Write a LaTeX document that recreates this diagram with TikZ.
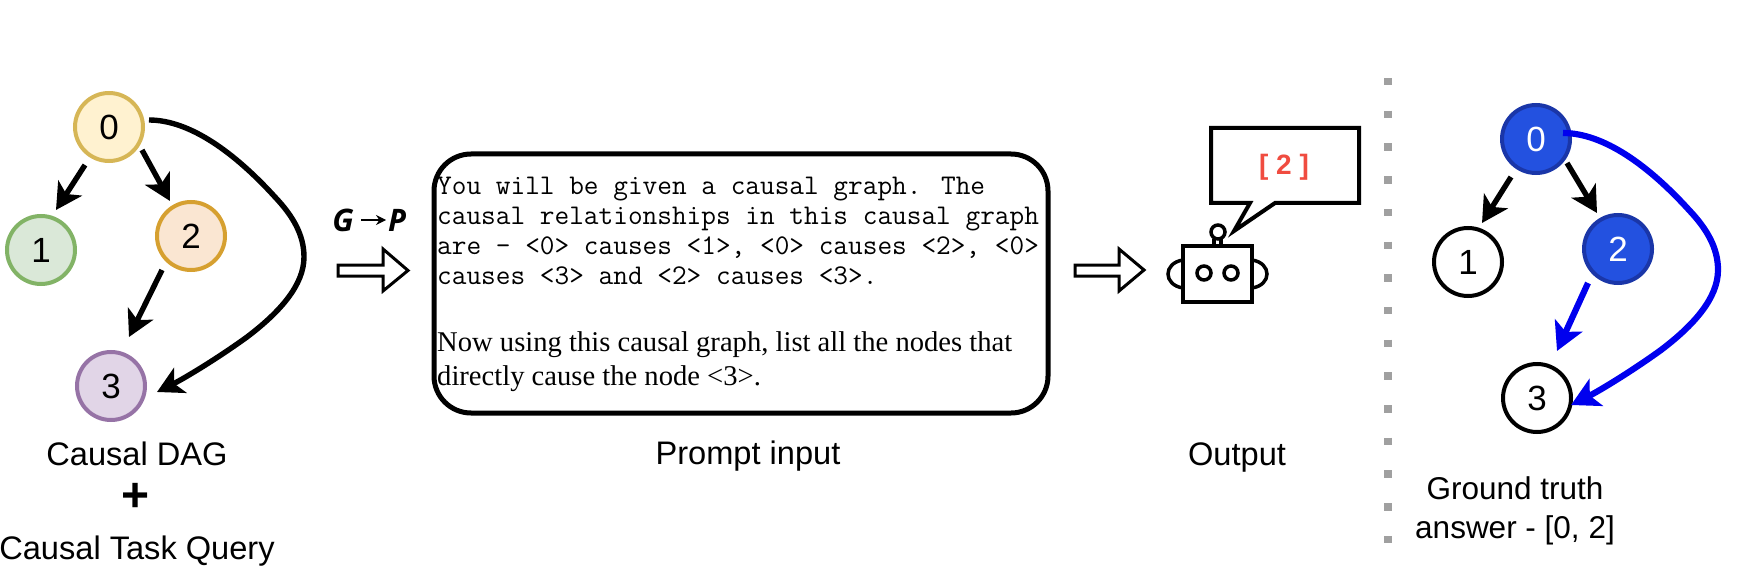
\documentclass[tikz,border=0pt]{standalone}
\usepackage{fontspec}
\setmainfont{Liberation Sans}
\newfontfamily\seriff{Liberation Serif}
\newfontfamily\handf{Open Sans}
\usetikzlibrary{arrows.meta,calc}
\definecolor{blueFill}{HTML}{2351E0}
\definecolor{blueLine}{HTML}{1A36A8}
\definecolor{pathBlue}{HTML}{0000EE}
\definecolor{dotGray}{HTML}{A0A0A0}
\definecolor{redTxt}{HTML}{F04C40}
\tikzset{
  dagnode/.style={circle,minimum size=68pt,inner sep=0pt,line width=4pt,font=\fontsize{35}{35}\selectfont},
  answer/.style={dagnode,fill=blueFill,draw=blueLine,text=white},
  plainnode/.style={dagnode,fill=white,draw=black},
  edgeline/.style={line width=5.4pt,-{Stealth[length=26pt,width=28pt,inset=7pt]}},
  blueedge/.style={edgeline,line width=6.2pt,draw=pathBlue,-{Stealth[length=28pt,width=30pt,inset=7pt,fill=pathBlue]}},
  label/.style={anchor=base,inner sep=0pt,font=\fontsize{32.6}{32.6}\selectfont},
  monoline/.style={anchor=base west,inner sep=0pt,font=\ttfamily\fontsize{28.5}{28.5}\selectfont},
  serifline/.style={anchor=base west,inner sep=0pt,font=\seriff\fontsize{28.6}{28.6}\selectfont},
  blockarrow/.style={draw=black,fill=white,line width=3pt,miter limit=10},
  robot/.style={draw=black,line width=3.5pt},
}
\begin{document}
\begin{tikzpicture}[x=1pt,y=-1pt]
\useasboundingbox (0,0) rectangle (1750,572);
% left DAG
\node[dagnode,fill={rgb,255:red,255;green,242;blue,208},draw={rgb,255:red,214;green,182;blue,86}] (n0) at (109,127) {0};
\node[dagnode,fill={rgb,255:red,218;green,232;blue,216},draw={rgb,255:red,130;green,179;blue,102}] (n1) at (41,250) {1};
\node[dagnode,fill={rgb,255:red,250;green,230;blue,210},draw={rgb,255:red,214;green,160;blue,48}] (n2) at (191,236) {2};
\node[dagnode,fill={rgb,255:red,225;green,213;blue,231},draw={rgb,255:red,150;green,115;blue,166}] (n3) at (111,386) {3};
\coordinate (a01s) at (85,165); \coordinate (a01e) at (56,210);
\coordinate (a02s) at (142,150); \coordinate (a02e) at (170,201);
\coordinate (a23s) at (162,270); \coordinate (a23e) at (129,337);
\coordinate (a03s) at (149,120); \coordinate (a03e) at (157,392);
\draw[edgeline] (a01s) -- (a01e);
\draw[edgeline] (a02s) -- (a02e);
\draw[edgeline] (a23s) -- (a23e);
\draw[edgeline] (a03s) .. controls (190,120) and (235,153) .. (275,197)
  .. controls (293,216) and (304,235) .. (304,257)
  .. controls (304,285) and (280,312) .. (247,337)
  .. controls (218,358) and (185,378) .. (a03e);
\node[label] (lDag) at (137,465) {Causal DAG};
\node[inner sep=0pt,font=\fontsize{48}{48}\selectfont\bfseries] (lPlus) at (136,497) {+};
\node[label] (lTask) at (137,559) {Causal Task Query};
% G -> P
\node[inner sep=0pt,font=\handf\itshape\bfseries\fontsize{31}{31}\selectfont] (tG) at (343,220) {G};
\node[inner sep=0pt,font=\handf\itshape\bfseries\fontsize{31}{31}\selectfont] (tP) at (397,220) {P};
\draw[line width=1.3pt,-{Stealth[length=10pt,width=10pt]}] (361,220) -- (386,220);
\draw[blockarrow] (338,265) -- (383,265) -- (383,249) -- (408,270.5) -- (383,291) -- (383,276) -- (338,276) -- cycle;
% prompt box
\draw[line width=5pt,rounded corners=37pt] (434,154) rectangle (1048,413);
\node[monoline] (p1) at (437,195) {You will be given a causal graph. The};
\node[monoline] (p2) at (437,225) {causal relationships in this causal graph};
\node[monoline] (p3) at (437,254) {are - <0> causes <1>, <0> causes <2>, <0>};
\node[monoline] (p4) at (437,284) {causes <3> and <2> causes <3>.};
\node[serifline] (p5) at (437,351) {Now using this causal graph, list all the nodes that};
\node[serifline] (p6) at (437,385) {directly cause the node <3>.};
\node[label] (lPrompt) at (748,464) {Prompt input};
% second arrow
\draw[blockarrow] (1075,265) -- (1119,265) -- (1119,249) -- (1144,270) -- (1119,291) -- (1119,276) -- (1075,276) -- cycle;
% robot
\draw[robot] (1183,246) rectangle (1252,302);
\draw[robot] (1204,273) circle (7);
\draw[robot] (1231,273) circle (7);
\draw[robot] (1183,260) .. controls (1163,263) and (1163,285) .. (1183,288);
\draw[robot] (1252,260) .. controls (1272,263) and (1272,285) .. (1252,288);
\draw[robot] (1218,232) circle (7);
\draw[robot] (1214,239) -- (1214,246);
\draw[robot] (1221,239) -- (1221,246);
% speech bubble
\draw[line width=4pt,miter limit=12,fill=white] (1211,128) -- (1359,128) -- (1359,203) -- (1275,203) -- (1234,231) -- (1250,203) -- (1211,203) -- cycle;
\node[inner sep=0pt,text=redTxt,font=\fontsize{28}{28}\selectfont\bfseries] (out) at (1284,167) {[ 2 ]};
\node[label] (lOutput) at (1237,465) {Output};
% separator
\coordinate (sepTop) at (1388,78);
\coordinate (sepBot) at (1388,543);
\draw[draw=dotGray,line width=8pt,dash pattern=on 7.5pt off 25.2pt] (sepTop) -- (sepBot);
% right DAG
\node[answer] (m0) at (1536,139) {0};
\node[plainnode] (m1) at (1468,262) {1};
\node[answer] (m2) at (1618,249) {2};
\node[plainnode] (m3) at (1537,398) {3};
\coordinate (b01s) at (1511,177); \coordinate (b01e) at (1482,223);
\coordinate (b02s) at (1567,163); \coordinate (b02e) at (1597,213);
\coordinate (b23s) at (1588,283); \coordinate (b23e) at (1557,351);
\coordinate (b03s) at (1563,133); \coordinate (b03e) at (1571,405);
\draw[edgeline] (b01s) -- (b01e);
\draw[edgeline] (b02s) -- (b02e);
\draw[blueedge] (b23s) -- (b23e);
\draw[blueedge] (b03s) .. controls (1604,133) and (1649,166) .. (1689,210)
  .. controls (1707,229) and (1718,248) .. (1718,270)
  .. controls (1718,298) and (1694,325) .. (1661,350)
  .. controls (1632,371) and (1599,391) .. (b03e);
\node[label,font=\fontsize{31.5}{31.5}\selectfont] (lG1) at (1515,499) {Ground truth};
\node[label,font=\fontsize{31.5}{31.5}\selectfont] (lG2) at (1515,538) {answer - [0, 2]};
\end{tikzpicture}
\end{document}
